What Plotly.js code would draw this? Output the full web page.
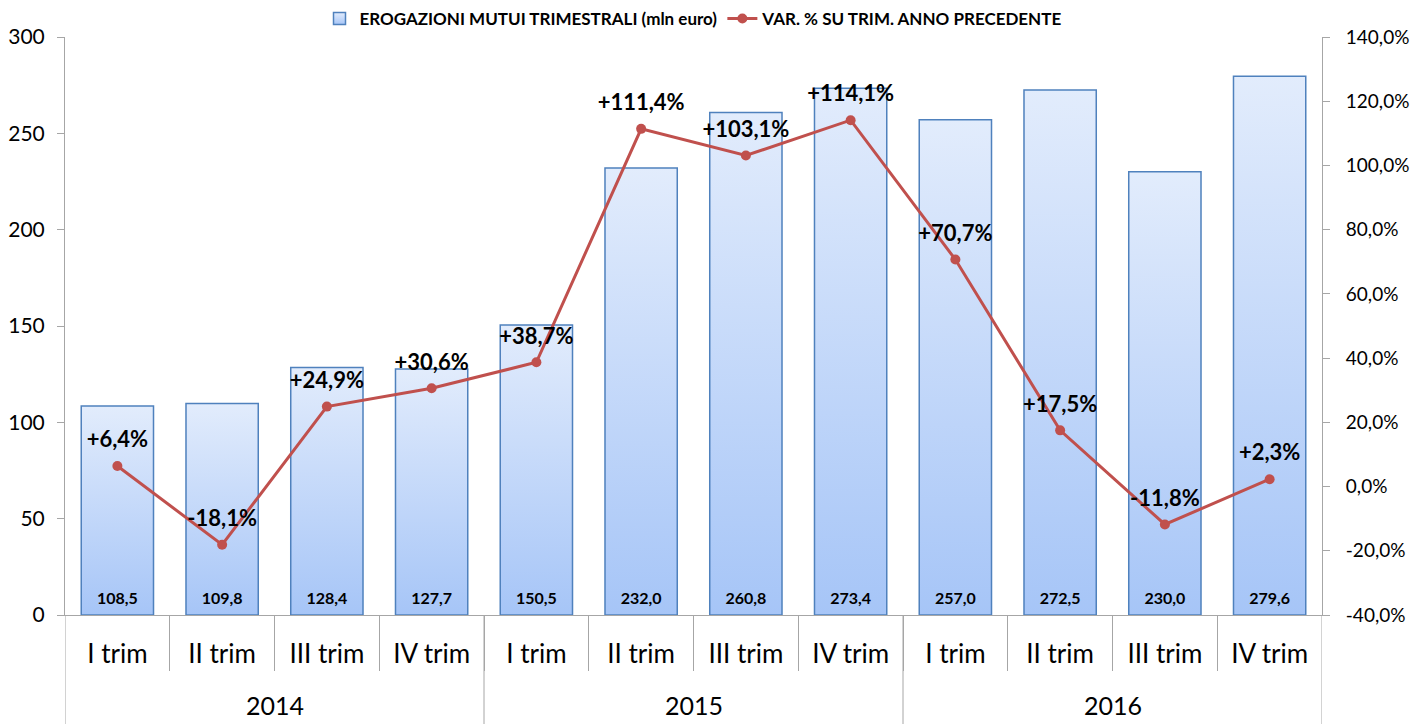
<!DOCTYPE html>
<html>
<head>
<meta charset="utf-8">
<script src="https://cdn.plot.ly/plotly-3.0.1.min.js"></script>
<style>
html,body{margin:0;padding:0;background:#fff;}
#chart{width:1423px;height:724px;}
</style>
</head>
<body>
<div id="chart"></div>
<script>
var years = ["2014","2014","2014","2014","2015","2015","2015","2015","2016","2016","2016","2016"];
var yearLabels = ["2014","2015","2016"];
var quarters = ["I trim","II trim","III trim","IV trim","I trim","II trim","III trim","IV trim","I trim","II trim","III trim","IV trim"];
var erogazioni = [108.5,109.8,128.4,127.7,150.5,232.0,260.8,273.4,257.0,272.5,230.0,279.6];
var variazione = [6.4,-18.1,24.9,30.6,38.7,111.4,103.1,114.1,70.7,17.5,-11.8,2.3];
var leftTicks = [0,50,100,150,200,250,300];
var rightTicks = [-40,-20,0,20,40,60,80,100,120,140];
var rightTickText = ["-40,0%","-20,0%","0,0%","20,0%","40,0%","60,0%","80,0%","100,0%","120,0%","140,0%"];

function fmt(v){ return v.toFixed(1).replace('.', ','); }
var barText = erogazioni.map(fmt);
var lineText = variazione.map(function(v){ return (v >= 0 ? '+' : '') + fmt(v) + '%'; });

// category positions derived from the data arrays
var xIdx = quarters.map(function(q, i){ return i; });
var quarterBounds = xIdx.slice(0, -1).map(function(i){ return i + 0.5; });
var yearGroups = yearLabels.map(function(y){
  var idx = xIdx.filter(function(i){ return years[i] === y; });
  return {label: y, start: idx[0] - 0.5, end: idx[idx.length - 1] + 0.5};
});
var yearBounds = [yearGroups[0].start].concat(yearGroups.map(function(g){ return g.end; }));

var FONT = 'Lato, "Open Sans", sans-serif';
var AX = '#a6a6a6';

var traces = [
  {
    type: 'bar',
    name: 'EROGAZIONI MUTUI TRIMESTRALI (mln euro)',
    x: xIdx,
    y: erogazioni,
    text: barText,
    textposition: 'inside',
    insidetextanchor: 'start',
    textfont: {family: FONT, size: 16, color: '#000', weight: 'bold'},
    marker: {color: '#c4d8f9', line: {color: '#4f81bd', width: 1.5}},
    hoverinfo: 'none'
  },
  {
    type: 'scatter',
    mode: 'lines+markers+text',
    name: 'VAR. % SU TRIM. ANNO PRECEDENTE',
    x: xIdx,
    y: variazione,
    yaxis: 'y2',
    text: lineText,
    textposition: 'top center',
    textfont: {family: FONT, size: 22, color: '#000', weight: 'bold'},
    line: {color: '#c0504d', width: 3},
    marker: {color: '#c0504d', size: 10},
    hoverinfo: 'none',
    cliponaxis: false
  }
];

var shapes = yearBounds.map(function(b){
  return {type: 'line', xref: 'x', yref: 'paper', x0: b, x1: b, y0: 0, y1: -0.19,
          line: {color: AX, width: 1}};
});
var annotations = yearGroups.map(function(g){
  return {xref: 'x', yref: 'paper', x: (g.start + g.end) / 2, y: -0.156, yanchor: 'middle',
          text: g.label, showarrow: false, font: {family: FONT, size: 25, color: '#000'}};
});

var layout = {
  width: 1423, height: 724,
  margin: {l: 65, r: 101, t: 37, b: 109, autoexpand: false},
  paper_bgcolor: '#fff', plot_bgcolor: '#fff',
  font: {family: FONT, color: '#000'},
  bargap: 0.31,
  showlegend: true,
  legend: {
    orientation: 'h', x: 0.5, xanchor: 'center', y: 1.0, yanchor: 'bottom',
    font: {family: FONT, size: 17, weight: 'bold'},
    tracegroupgap: 0
  },
  shapes: shapes,
  annotations: annotations,
  xaxis: {
    range: [yearGroups[0].start, yearGroups[yearGroups.length - 1].end],
    tickmode: 'array', tickvals: xIdx, ticktext: quarters,
    showline: true, linecolor: AX, linewidth: 1,
    ticks: '', ticklabelstandoff: 16,
    minor: {tickmode: 'array', tickvals: quarterBounds, ticks: 'outside', ticklen: 55, tickcolor: AX, tickwidth: 1},
    tickfont: {family: FONT, size: 26, color: '#000'},
    showgrid: false, zeroline: false
  },
  yaxis: {
    range: [0, 300], tickmode: 'array', tickvals: leftTicks,
    showline: true, linecolor: AX, linewidth: 1,
    ticks: 'outside', ticklen: 7, tickcolor: AX, ticklabelstandoff: 8,
    tickfont: {family: FONT, size: 21, color: '#000'},
    showgrid: false, zeroline: false
  },
  yaxis2: {
    overlaying: 'y', side: 'right',
    range: [-40, 140], tickmode: 'array', tickvals: rightTicks, ticktext: rightTickText,
    showline: true, linecolor: AX, linewidth: 1,
    ticks: 'outside', ticklen: 7, tickcolor: AX, ticklabelstandoff: 12,
    tickfont: {family: FONT, size: 19, color: '#000'},
    showgrid: false, zeroline: false
  }
};

Plotly.newPlot('chart', traces, layout, {displayModeBar: false, staticPlot: true}).then(function(gd){
  var svg = gd.querySelector('svg.main-svg');
  var ns = 'http://www.w3.org/2000/svg';
  var defs = svg.querySelector('defs') || svg.insertBefore(document.createElementNS(ns, 'defs'), svg.firstChild);
  var grad = document.createElementNS(ns, 'linearGradient');
  grad.setAttribute('id', 'barGrad');
  grad.setAttribute('x1', '0'); grad.setAttribute('y1', '0');
  grad.setAttribute('x2', '0'); grad.setAttribute('y2', '1');
  [['0', '#e2ecfc'], ['1', '#a6c5f7']].forEach(function(s){
    var st = document.createElementNS(ns, 'stop');
    st.setAttribute('offset', s[0]); st.setAttribute('stop-color', s[1]);
    grad.appendChild(st);
  });
  defs.appendChild(grad);
  gd.querySelectorAll('.barlayer .point path').forEach(function(p){ p.style.fill = 'url(#barGrad)'; });
  var legTraces = gd.querySelectorAll('.legend .traces');
  if (legTraces[0]) legTraces[0].querySelectorAll('.legendpoints path').forEach(function(p){ p.style.fill = 'url(#barGrad)'; });
  // nudge labels to match the reference placement
  gd.querySelectorAll('.scatterlayer .textpoint text').forEach(function(t){
    t.setAttribute('transform', 'translate(0,-6)');
  });
  gd.querySelectorAll('.barlayer .bartext').forEach(function(t){
    var tr = t.getAttribute('transform') || '';
    t.setAttribute('transform', 'translate(0,-5) ' + tr);
  });
});
</script>
</body>
</html>
